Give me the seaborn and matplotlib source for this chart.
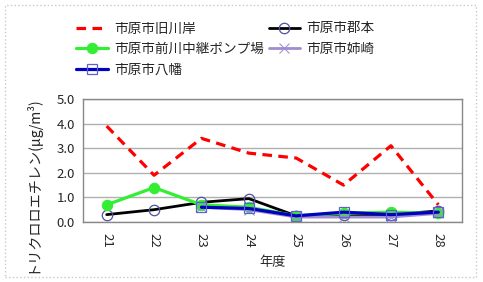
import matplotlib
matplotlib.use("Agg")
import matplotlib.pyplot as plt
import seaborn as sns
import pandas as pd
import numpy as np
from matplotlib.patches import Rectangle

years = ["21", "22", "23", "24", "25", "26", "27", "28"]
kyu_kawagishi = [3.9, 1.9, 3.4, 2.8, 2.6, 1.5, 3.1, 0.7]
koorimoto = [0.3, 0.5, 0.8, 0.95, 0.25, 0.3, 0.3, 0.45]
maekawa = [0.7, 1.4, 0.7, 0.6, 0.25, 0.35, 0.4, 0.35]
anesaki = [np.nan, np.nan, 0.6, 0.5, 0.2, 0.2, 0.2, 0.35]
yawata = [np.nan, np.nan, 0.6, 0.55, 0.25, 0.4, 0.3, 0.4]

names = ["市原市旧川岸", "市原市郡本", "市原市前川中継ポンプ場", "市原市姉崎", "市原市八幡"]

sns.set_style("white")
plt.rcParams['font.family'] = ['Noto Sans CJK JP', 'DejaVu Sans']

fig = plt.figure(figsize=(4.83, 2.82), dpi=100)
ax = fig.add_axes([83/483, 1-222/282, (462-83)/483, (222-99)/282])

xs = np.arange(len(years))
df = pd.DataFrame({"x": xs, "kyu": kyu_kawagishi, "kori": koorimoto,
                   "mae": maekawa, "ane": anesaki, "yaw": yawata})

sns.lineplot(data=df, x="x", y="kyu", ax=ax, color="#FF0000", linewidth=2.3,
             linestyle=(0, (3, 2)), label=names[0])
sns.lineplot(data=df, x="x", y="kori", ax=ax, color="black", linewidth=2.0,
             marker="o", markersize=7.5, markerfacecolor="none",
             markeredgecolor="#5050A0", markeredgewidth=0.9, label=names[1])
sns.lineplot(data=df, x="x", y="mae", ax=ax, color="#33EE33", linewidth=2.3,
             marker="o", markersize=7.5, markerfacecolor="#33EE33",
             markeredgecolor="#33EE33", label=names[2])
sns.lineplot(data=df.dropna(subset=["ane"]), x="x", y="ane", ax=ax, color="#A08CD0",
             linewidth=2.0, marker="x", markersize=7, markeredgecolor="#A08CD0",
             label=names[3])
sns.lineplot(data=df.dropna(subset=["yaw"]), x="x", y="yaw", ax=ax, color="#0000C0",
             linewidth=2.3, marker="s", markersize=7.5, markerfacecolor="none",
             markeredgecolor="#6060D0", markeredgewidth=0.9, label=names[4])

h, l = ax.get_legend_handles_labels()
ax.get_legend().remove()
order = [0, 2, 4, 1, 3]
fig.legend([h[i] for i in order], [l[i] for i in order], ncol=2,
           loc="upper left", bbox_to_anchor=(71/483, 1-16/282), frameon=False,
           fontsize=9.8, handlelength=2.3, columnspacing=0.3, handletextpad=0.5,
           labelspacing=0.5, borderaxespad=0)

ax.set_xlim(-0.5, len(years) - 0.5)
ax.set_ylim(0, 5)
ax.set_yticks(np.arange(0, 5.01, 1.0))
ax.set_yticklabels([f"{v:.1f}" for v in np.arange(0, 5.01, 1.0)], fontsize=9.5)
ax.set_xticks(xs)
ax.set_xticklabels(years, rotation=-90, fontsize=9.5)
ax.set_xticks(np.arange(-0.5, len(years), 1.0), minor=True)
ax.tick_params(axis="x", which="major", length=0, pad=8)
ax.tick_params(axis="x", which="minor", length=4, width=1, color="#888888", direction="out")
ax.tick_params(axis="y", which="major", length=4, width=1, color="#888888", direction="out", pad=2)
ax.grid(axis="y", color="#B0B0B0", linewidth=1)
ax.set_axisbelow(True)
for s in ax.spines.values():
    s.set_color("#888888")
    s.set_linewidth(1)
ax.set_xlabel("年度", fontsize=9.5, labelpad=6)
ax.set_ylabel("トリクロロエチレン(μg/m³)", fontsize=10.2)
ax.yaxis.set_label_coords((39 - 83) / (462 - 83), (222 - 184) / (222 - 99))

fig.patches.append(Rectangle((5/483, 5/282), 471/483, 272/282, transform=fig.transFigure,
                             fill=False, edgecolor="#C8C8C8", linewidth=1, linestyle=":"))

fig.savefig("out.png", dpi=100)
